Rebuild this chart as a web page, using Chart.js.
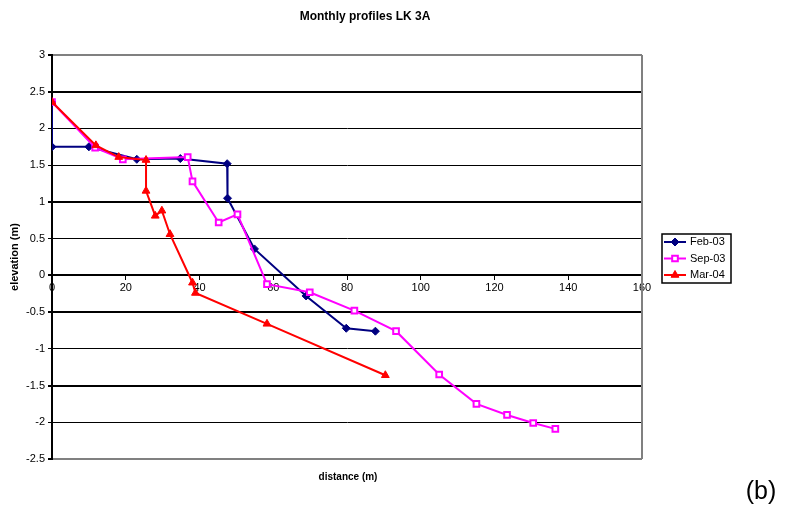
<!DOCTYPE html>
<html>
<head>
<meta charset="utf-8">
<script src="https://cdn.jsdelivr.net/npm/chart.js@4.4.1/dist/chart.umd.min.js"></script>
<style>
    html, body { margin: 0; padding: 0; background: #fff; }
    #wrap { width: 785px; height: 515px; }
</style>
</head>
<body>
<div id="wrap"><canvas id="profile-canvas" width="785" height="515"></canvas></div>
<script>
// values
const seriesNames = ['Feb-03', 'Sep-03', 'Mar-04']

const feb03X = [0, 0, 10, 23, 34.8, 47.5, 47.6, 54.9, 68.9, 79.8, 87.7]
const feb03Y = [2.36, 1.75, 1.75, 1.58, 1.59, 1.52, 1.05, 0.36, -0.28, -0.72, -0.76]

const sep03X = [0, 11.7, 19.2, 36.8, 38.1, 45.2, 50.3, 58.3, 69.9, 82.0, 93.3, 105.0, 115.1, 123.4, 130.5, 136.5]
const sep03Y = [2.36, 1.74, 1.58, 1.61, 1.28, 0.72, 0.83, -0.12, -0.23, -0.48, -0.76, -1.35, -1.75, -1.9, -2.01, -2.09]

const mar04X = [0, 11.9, 18.1, 25.5, 25.5, 28.0, 29.8, 32.0, 38.1, 38.9, 58.3, 90.4]
const mar04Y = [2.36, 1.77, 1.61, 1.57, 1.15, 0.81, 0.88, 0.56, -0.1, -0.24, -0.66, -1.36]

const xMin = 0, xMax = 160, xStep = 20
const yMin = -2.5, yMax = 3, yStep = 0.5

const FONT = '"Liberation Sans", Arial, sans-serif'

// gridlines that come out heavier in the scanned figure
const heavyGrid = [2.5, 1, 0, -0.5, -1.5]

const toPoints = (xs, ys) => xs.map((x, i) => ({x: x, y: ys[i]}))

const extras = {
    id: 'extras',
    beforeDatasetsDraw(chart) {
        const {ctx, chartArea} = chart
        ctx.save()
        ctx.strokeStyle = '#808080'
        ctx.lineWidth = 2
        ctx.beginPath()
        ctx.moveTo(chartArea.right, chartArea.top)
        ctx.lineTo(chartArea.right, chartArea.bottom)
        ctx.stroke()
        ctx.restore()
    },
    afterDraw(chart) {
        const {ctx} = chart
        ctx.save()
        ctx.fillStyle = '#000'
        ctx.textAlign = 'center'
        ctx.textBaseline = 'middle'

        ctx.font = 'bold 12px ' + FONT
        ctx.fillText('Monthly profiles LK 3A', 365, 17)

        ctx.font = 'bold 10px ' + FONT
        ctx.fillText('distance (m)', 348, 477)

        ctx.font = '25px ' + FONT
        ctx.fillText('(b)', 761, 492)

        // legend
        const lx = 662, ly = 234, lw = 69, lh = 49
        ctx.strokeStyle = '#000'
        ctx.lineWidth = 1.5
        ctx.strokeRect(lx, ly, lw, lh)
        ctx.textAlign = 'left'
        ctx.font = '11px ' + FONT
        chart.data.datasets.forEach((ds, i) => {
            const y = ly + 8 + i * 16.5
            ctx.strokeStyle = ds.borderColor
            ctx.lineWidth = 2
            ctx.beginPath()
            ctx.moveTo(lx + 2, y)
            ctx.lineTo(lx + 24, y)
            ctx.stroke()
            ctx.fillStyle = ds.pointBackgroundColor
            ctx.strokeStyle = ds.borderColor
            ctx.lineWidth = ds.pointBorderWidth
            Chart.helpers.drawPoint(ctx, {
                pointStyle: ds.pointStyle,
                radius: ds.pointRadius,
                rotation: 0,
                borderWidth: ds.pointBorderWidth
            }, lx + 13, y)
            ctx.fillStyle = '#000'
            ctx.fillText(ds.label, lx + 28, y)
        })
        ctx.restore()
    }
}

const profileChart = new Chart(document.querySelector('#profile-canvas'), {
    type: 'scatter',
    data: {
        datasets: [{
            label: seriesNames[0],
            data: toPoints(feb03X, feb03Y),
            showLine: true,
            borderColor: '#000080',
            backgroundColor: '#000080',
            pointBackgroundColor: '#000080',
            pointStyle: 'rectRot',
            pointRadius: 4,
            pointBorderWidth: 1,
            borderWidth: 2,
            order: 2
        }, {
            label: seriesNames[1],
            data: toPoints(sep03X, sep03Y),
            showLine: true,
            borderColor: '#ff00ff',
            backgroundColor: '#ff00ff',
            pointBackgroundColor: '#ffffff',
            pointStyle: 'rect',
            pointRadius: 4,
            pointBorderWidth: 2,
            borderWidth: 2,
            order: 1
        }, {
            label: seriesNames[2],
            data: toPoints(mar04X, mar04Y),
            showLine: true,
            borderColor: '#ff0000',
            backgroundColor: '#ff0000',
            pointBackgroundColor: '#ff0000',
            pointStyle: 'triangle',
            pointRadius: 4.5,
            pointBorderWidth: 1,
            borderWidth: 2,
            order: 0
        }]
    },
    options: {
        responsive: false,
        animation: false,
        layout: {
            padding: {left: 0, top: 55, right: 143, bottom: 56}
        },
        plugins: {
            legend: {display: false},
            title: {display: false},
            tooltip: {enabled: false}
        },
        scales: {
            x: {
                type: 'linear',
                position: {y: 0},
                min: xMin,
                max: xMax,
                ticks: {
                    stepSize: xStep,
                    color: '#000',
                    padding: 2,
                    font: {family: FONT, size: 11}
                },
                grid: {
                    drawOnChartArea: false,
                    drawTicks: true,
                    tickLength: 4,
                    color: '#000'
                },
                border: {display: true, color: '#000', width: 2}
            },
            y: {
                type: 'linear',
                min: yMin,
                max: yMax,
                afterFit(scale) { scale.width = 52 },
                ticks: {
                    stepSize: yStep,
                    color: '#000',
                    padding: 3,
                    font: {family: FONT, size: 11},
                    callback: v => String(Math.round(v * 10) / 10)
                },
                grid: {
                    color: ctx => (ctx.tick.value === yMax || ctx.tick.value === yMin) ? '#808080' : '#000',
                    lineWidth: ctx => (ctx.tick.value === yMax || ctx.tick.value === yMin || heavyGrid.includes(ctx.tick.value)) ? 2 : 1,
                    tickColor: '#000',
                    tickLength: 4
                },
                border: {display: true, color: '#000', width: 2},
                title: {
                    display: true,
                    text: 'elevation (m)',
                    color: '#000',
                    padding: {top: 8, bottom: 0},
                    font: {family: FONT, size: 11, weight: 'bold'}
                }
            }
        }
    },
    plugins: [extras]
})
</script>
</body>
</html>
